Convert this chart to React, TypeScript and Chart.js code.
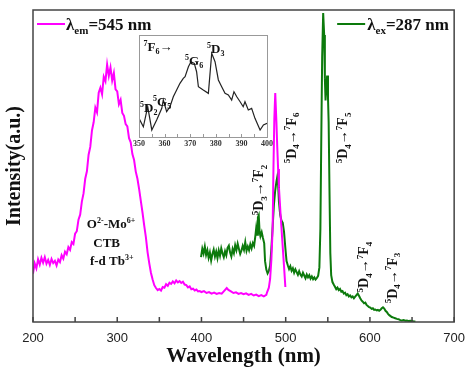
import React, { useEffect, useRef } from 'react';
import { Chart, registerables } from 'chart.js';

Chart.register(...registerables);

// ---------- data ----------
// Excitation spectrum (lambda_em = 545 nm), magenta
const excWavelength = [
  200, 202, 204, 206, 208, 210, 212, 214, 216, 218, 220, 222, 224, 226, 228, 230, 232, 234, 236, 238,
  240, 242, 244, 246, 248, 250, 252, 254, 256, 258, 260, 262, 264, 266, 268, 270, 272, 274, 276, 278,
  280, 282, 284, 286, 288, 290, 292, 294, 296, 298, 300, 302, 304, 306, 308, 310, 312, 314, 316, 318,
  320, 322, 324, 326, 328, 330, 332, 334, 336, 338, 340, 342, 344, 346, 348, 350, 352, 354, 356, 358,
  360, 362, 364, 366, 368, 370, 372, 374, 376, 378, 380, 382, 384, 386, 388, 390, 392, 394, 396, 398,
  400, 403, 406, 409, 412, 415, 418, 421, 424, 427, 430, 432, 435, 438, 441, 444, 447, 450, 453, 456,
  459, 462, 465, 468, 471, 474, 477, 478, 480, 481.5, 483, 484.5, 485.5, 486.5, 487.6, 489, 490, 491,
  492, 493.8, 496, 498, 499.6,
];
const excIntensity = [
  15.5, 18.8, 17.2, 20.1, 18.4, 20.6, 19.0, 20.8, 18.7, 19.9, 18.3, 20.2, 18.9, 19.6, 18.1, 20.0, 19.2, 21.4, 20.3, 22.5,
  21.7, 24.0, 23.1, 25.6, 25.0, 28.3, 29.1, 32.8, 34.4, 38.6, 41.2, 45.9, 48.3, 53.6, 56.1, 61.4, 64.0, 68.7, 67.2, 73.5,
  75.1, 73.0, 78.6, 77.2, 82.5, 78.9, 81.6, 77.4, 79.8, 74.6, 73.9, 69.8, 71.2, 67.0, 66.1, 63.4, 62.7, 58.9, 57.6, 53.8,
  51.9, 48.2, 45.9, 42.6, 38.8, 35.1, 31.0, 27.2, 22.4, 18.9, 15.8, 13.6, 11.8, 10.9, 10.2, 10.6, 10.1, 11.2, 11.0, 12.1,
  11.6, 12.6, 12.2, 13.0, 12.4, 13.3, 12.7, 13.1, 12.5, 12.9, 12.0, 11.8, 11.1, 11.4, 10.5, 10.7, 10.1, 10.4, 9.8, 9.9,
  9.6, 9.9, 9.3, 9.6, 9.1, 9.4, 9.0, 9.3, 9.1, 10.0, 10.9, 10.3, 9.8, 9.3, 9.5, 9.0, 9.3, 8.9, 9.2, 8.7,
  9.0, 8.5, 8.8, 8.3, 8.6, 8.2, 8.7, 9.6, 11.0, 13.8, 20.0, 30.0, 50.0, 65.0, 73.4, 64.0, 56.0, 49.0,
  43.0, 35.0, 26.0, 18.0, 11.2,
];

// Emission spectrum (lambda_ex = 287 nm), green
const emWavelength = [
  399.5, 401, 402.5, 404, 405.5, 407, 408.5, 410, 411.5, 413, 414.5, 416, 417.5, 419, 420.5, 422, 423.5, 425, 426.5, 428,
  429.5, 431, 432.5, 434, 435.5, 437, 438.5, 440, 441.5, 443, 444.5, 446, 447.5, 449, 450.5, 452, 453.5, 455, 456.5, 458,
  459.5, 461, 462.5, 464, 465, 466, 467, 468, 469, 470, 471.5, 473, 474.5, 475.5, 477, 478.5, 480, 481.5, 483, 484.5,
  486, 487.5, 489, 490, 491, 492, 493.5, 495, 496.5, 498, 499.5, 501, 502.5, 504, 505.5, 507, 508.5, 510, 511.5, 513,
  514.5, 516, 517.5, 519, 520.5, 522, 523.5, 525, 526.5, 528, 529.5, 531, 532.5, 534, 535.5, 537, 538.5, 540, 541.2, 542.3,
  543.3, 544.5, 545.7, 546.5, 547.3, 548.3, 549.2, 550.2, 551, 552, 553, 554, 555.5, 557, 558.5, 560, 561.5, 563, 564.5, 566,
  567.5, 569, 570.5, 572, 573.5, 575, 576.5, 578, 579.5, 581, 582.5, 584, 585.5, 587, 588.5, 590, 591.5, 593, 594.5, 596,
  597.5, 599, 600.5, 602, 603.5, 605, 606.5, 608, 609.5, 611, 612.5, 614, 615.5, 617, 618.5, 620, 621.5, 623, 624.5, 626,
  628, 630, 632, 634, 636, 638, 640, 642, 644, 646, 648, 650, 652, 654,
];
const emIntensity = [
  20.8, 23.5, 22.0, 24.2, 21.5, 23.0, 20.6, 22.3, 19.7, 21.8, 23.2, 21.0, 22.6, 20.5, 22.9, 21.2, 23.6, 22.0, 20.8, 22.7,
  21.4, 23.8, 24.5, 22.3, 21.0, 23.4, 22.1, 24.6, 23.0, 25.1, 23.4, 21.8, 22.9, 24.4, 23.1, 25.6, 22.8, 24.2, 23.0, 24.9,
  23.6, 25.3, 24.4, 27.6, 30.1, 28.0, 33.5, 34.2, 29.0, 27.5, 28.8, 26.9, 25.2, 19.5, 16.8, 15.6, 16.4, 18.0, 23.5, 30.5,
  37.5, 42.0, 45.0, 46.5, 44.0, 38.5, 34.3, 32.5, 31.8, 29.0, 24.0, 19.5, 18.2, 17.0, 17.9, 16.4, 17.2, 15.8, 16.9, 16.0,
  15.1, 16.3, 15.2, 14.6, 15.8, 14.9, 14.0, 15.2, 14.3, 15.0, 13.9, 14.6, 13.7, 14.3, 13.6, 14.1, 14.8, 17.5, 30.0, 60.0,
  85.0, 99.0, 92.0, 78.0, 71.0, 76.0, 79.0, 72.0, 64.0, 42.0, 22.0, 15.0, 12.8, 12.0, 11.3, 10.5, 11.0, 10.2, 10.6, 9.7,
  9.9, 9.1, 9.4, 8.6, 8.9, 8.2, 8.5, 7.9, 8.2, 7.6, 8.1, 8.6, 9.1, 8.4, 7.6, 6.9, 6.5, 6.0, 6.2, 5.5,
  5.1, 4.8, 4.6, 4.2, 4.4, 3.9, 4.0, 3.7, 3.9, 3.6, 3.9, 4.4, 4.7, 4.3, 3.6, 3.2, 2.6, 2.2, 1.9, 1.6,
  1.4, 1.2, 1.0, 0.9, 0.6, 0.5, 0.6, 0.4, 0.5, 0.3, 0.4, 0.3, 0.2, 0.2,
];

// Inset: excitation 350-400 nm, black
const insetWavelength = [
  350, 351.7, 353.4, 355, 356.9, 358.9, 359.5, 360.8, 362.1, 363.4, 364.7, 366, 367.3, 368, 369.3, 370.3, 371.6, 372.5,
  373.2, 375.1, 377.1, 378.4, 379.7, 381, 382.3, 383.6, 384.9, 386.2, 387.1, 388.2, 389.5, 390.7, 391.4, 392.7, 394,
  395.3, 397.3, 398.6, 400,
];
const insetIntensity = [
  18.3, 10, 29.7, 6.9, 16.7, 28.1, 36.3, 24.8, 29.7, 39.5, 46, 52.6, 57.5, 59.1, 68.9, 73.8, 72.2, 64,
  49.3, 46, 42.8, 82, 73.8, 55.9, 49.3, 42.8, 41.2, 36.3, 44.4, 39.5, 34.6, 29.7, 34.6, 26.5, 28.1,
  18.3, 6.9, 11.8, 13.4,
];

// axis ranges / ticks
const xRange = [200, 700];
const xTickStep = 50;
const xLabelStep = 100;
const insetRange = [350, 400];
const insetTickStep = 5;
const insetLabelStep = 10;

// annotation texts: [text, 1 = superscript, -1 = subscript]
type Seg = [string, number?];
const transitionLabels: Seg[][] = [
  [['5', 1], ['D'], ['3', -1], ['→'], ['7', 1], ['F'], ['2', -1]],
  [['5', 1], ['D'], ['4', -1], ['→'], ['7', 1], ['F'], ['6', -1]],
  [['5', 1], ['D'], ['4', -1], ['→'], ['7', 1], ['F'], ['5', -1]],
  [['5', 1], ['D'], ['4', -1], ['→'], ['7', 1], ['F'], ['4', -1]],
  [['5', 1], ['D'], ['4', -1], ['→'], ['7', 1], ['F'], ['3', -1]],
];
const transitionWl = [467.6, 506.3, 567.4, 592, 626];
const transitionAt = [42.3, 59, 59, 17.6, 14.1];

const ctbLines: Seg[][] = [
  [['O'], ['2-', 1], ['-Mo'], ['6+', 1]],
  [['CTB']],
  [['f-d Tb'], ['3+', 1]],
];
const ctbWl = [292.7, 287.4, 293.5];
const ctbAt = [30.1, 24.0, 18.3];

const insetLabels: Seg[][] = [
  [['7', 1], ['F'], ['6', -1], ['→']],
  [['5', 1], ['G'], ['6', -1]],
  [['5', 1], ['D'], ['3', -1]],
  [['5', 1], ['D'], ['2', -1]],
  [['5', 1], ['G'], ['5', -1]],
];
const insetLabelWl = [351.8, 368, 376.6, 350.4, 355.5];
const insetLabelAt = [84.3, 70.6, 82.4, 24.5, 30.4];

const legendEm: Seg[] = [['λ'], ['em', -1], ['=545 nm']];
const legendEx: Seg[] = [['λ'], ['ex', -1], ['=287 nm']];

const MAGENTA = '#ff00ff';
const GREEN = '#0c7a0c';
const SERIF = '"Liberation Serif", "Times New Roman", serif';
const SANS = '"Liberation Sans", Arial, sans-serif';

function drawRich(ctx: CanvasRenderingContext2D, segs: Seg[], x: number, y: number, size: number, align: 'left' | 'center' = 'left') {
  const small = Math.round(size * 0.62);
  const fonts = segs.map((s) => `bold ${s[1] ? small : size}px ${SERIF}`);
  const widths = segs.map((s, i) => {
    ctx.font = fonts[i];
    return ctx.measureText(s[0]).width;
  });
  const total = widths.reduce((a, b) => a + b, 0);
  let cx = align === 'center' ? x - total / 2 : x;
  ctx.textAlign = 'left';
  ctx.textBaseline = 'alphabetic';
  segs.forEach((s, i) => {
    ctx.font = fonts[i];
    const dy = s[1] === 1 ? -size * 0.4 : s[1] === -1 ? size * 0.25 : 0;
    ctx.fillText(s[0], cx, y + dy);
    cx += widths[i];
  });
}

const mainDecor = {
  id: 'mainDecor',
  afterDraw(chart: any) {
    const { ctx, chartArea: a, scales } = chart;
    const x = scales.x;
    const y = scales.y;
    ctx.save();
    // frame
    ctx.strokeStyle = '#444';
    ctx.lineWidth = 1.5;
    ctx.strokeRect(a.left, a.top, a.right - a.left, a.bottom - a.top);
    // inward ticks
    ctx.beginPath();
    x.ticks.forEach((t: any) => {
      const px = x.getPixelForValue(t.value);
      ctx.moveTo(px, a.bottom);
      ctx.lineTo(px, a.bottom - 5);
    });
    ctx.stroke();
    // legends
    ctx.lineWidth = 2;
    ctx.strokeStyle = MAGENTA;
    ctx.beginPath();
    ctx.moveTo(a.left + 4, a.top + 14);
    ctx.lineTo(a.left + 32, a.top + 14);
    ctx.stroke();
    ctx.fillStyle = '#111';
    drawRich(ctx, legendEm, a.left + 33, a.top + 20, 17);
    ctx.strokeStyle = GREEN;
    ctx.beginPath();
    ctx.moveTo(a.right - 117, a.top + 14);
    ctx.lineTo(a.right - 89, a.top + 14);
    ctx.stroke();
    drawRich(ctx, legendEx, a.right - 87, a.top + 20, 17);
    // transitions (rotated)
    transitionLabels.forEach((segs, i) => {
      ctx.save();
      ctx.translate(x.getPixelForValue(transitionWl[i]), y.getPixelForValue(transitionAt[i]));
      ctx.rotate(-Math.PI / 2);
      drawRich(ctx, segs, 0, 5, 14, 'center');
      ctx.restore();
    });
    // CTB text
    ctbLines.forEach((segs, i) => {
      drawRich(ctx, segs, x.getPixelForValue(ctbWl[i]), y.getPixelForValue(ctbAt[i]), 13, 'center');
    });
    ctx.restore();
  },
};

const insetDecor = {
  id: 'insetDecor',
  afterDraw(chart: any) {
    const { ctx, chartArea: a, scales } = chart;
    const x = scales.x;
    const y = scales.y;
    ctx.save();
    ctx.strokeStyle = '#999';
    ctx.lineWidth = 1;
    ctx.strokeRect(a.left + 0.5, a.top + 0.5, a.right - a.left, a.bottom - a.top);
    ctx.beginPath();
    x.ticks.forEach((t: any) => {
      const px = Math.round(x.getPixelForValue(t.value)) + 0.5;
      ctx.moveTo(px, a.bottom);
      ctx.lineTo(px, a.bottom - 3);
    });
    ctx.stroke();
    ctx.fillStyle = '#111';
    insetLabels.forEach((segs, i) => {
      drawRich(ctx, segs, x.getPixelForValue(insetLabelWl[i]), y.getPixelForValue(insetLabelAt[i]), 13);
    });
    ctx.restore();
  },
};

export default function App() {
  const mainRef = useRef<HTMLCanvasElement>(null);
  const insetRef = useRef<HTMLCanvasElement>(null);

  useEffect(() => {
    const main = new Chart(mainRef.current as HTMLCanvasElement, {
      type: 'line',
      data: {
        datasets: [
          {
            label: 'λem=545 nm',
            data: excWavelength.map((w, i) => ({ x: w, y: excIntensity[i] })),
            borderColor: MAGENTA,
            borderWidth: 2,
            pointRadius: 0,
            tension: 0,
          },
          {
            label: 'λex=287 nm',
            data: emWavelength.map((w, i) => ({ x: w, y: emIntensity[i] })),
            borderColor: GREEN,
            borderWidth: 2,
            pointRadius: 0,
            tension: 0,
          },
        ],
      },
      options: {
        animation: false,
        responsive: false,
        layout: { padding: { top: 10, right: 15, left: 0, bottom: 0 } },
        plugins: { legend: { display: false }, tooltip: { enabled: false } },
        scales: {
          x: {
            type: 'linear',
            min: xRange[0],
            max: xRange[1],
            grid: { display: false, drawTicks: false },
            border: { display: false },
            afterFit: (s: any) => {
              s.height = 51;
            },
            ticks: {
              stepSize: xTickStep,
              autoSkip: false,
              maxRotation: 0,
              padding: 9,
              color: '#222',
              font: { family: SANS, size: 13 },
              callback: (v: any) => (Number(v) % xLabelStep === 0 ? String(v) : ''),
            },
            title: {
              display: true,
              text: 'Wavelength (nm)',
              color: '#111',
              font: { family: SERIF, size: 21, weight: 'bold' },
              padding: { top: 0, bottom: 4 },
            },
          },
          y: {
            min: 0,
            max: 100,
            grid: { display: false, drawTicks: false },
            border: { display: false },
            ticks: { display: false },
            afterFit: (s: any) => {
              s.width = 33;
            },
            title: {
              display: true,
              text: 'Intensity(a.u.)',
              color: '#111',
              font: { family: SERIF, size: 20, weight: 'bold' },
              padding: { top: 3, bottom: 0 },
            },
          },
        },
      } as any,
      plugins: [mainDecor],
    });

    const inset = new Chart(insetRef.current as HTMLCanvasElement, {
      type: 'line',
      data: {
        datasets: [
          {
            data: insetWavelength.map((w, i) => ({ x: w, y: insetIntensity[i] })),
            borderColor: '#222',
            borderWidth: 1.2,
            pointRadius: 0,
            tension: 0,
          },
        ],
      },
      options: {
        animation: false,
        responsive: false,
        layout: { padding: { top: 5, right: 9, left: 13, bottom: 0 } },
        plugins: { legend: { display: false }, tooltip: { enabled: false } },
        scales: {
          x: {
            type: 'linear',
            min: insetRange[0],
            max: insetRange[1],
            grid: { display: false, drawTicks: false },
            border: { display: false },
            afterFit: (s: any) => {
              s.height = 15;
            },
            ticks: {
              stepSize: insetTickStep,
              autoSkip: false,
              maxRotation: 0,
              padding: 2,
              color: '#333',
              font: { family: SERIF, size: 8, weight: 'bold' },
              callback: (v: any) => (Number(v) % insetLabelStep === 0 ? String(v) : ''),
            },
          },
          y: { display: false, min: 0, max: 100 },
        },
      } as any,
      plugins: [insetDecor],
    });

    return () => {
      main.destroy();
      inset.destroy();
    };
  }, []);

  return (
    <div style={{ position: 'absolute', left: 0, top: 0, width: 474, height: 373, background: '#fff' }}>
      <canvas ref={mainRef} width={474} height={373} style={{ position: 'absolute', left: 0, top: 0 }} />
      <canvas ref={insetRef} width={150} height={122} style={{ position: 'absolute', left: 126, top: 30 }} />
    </div>
  );
}
